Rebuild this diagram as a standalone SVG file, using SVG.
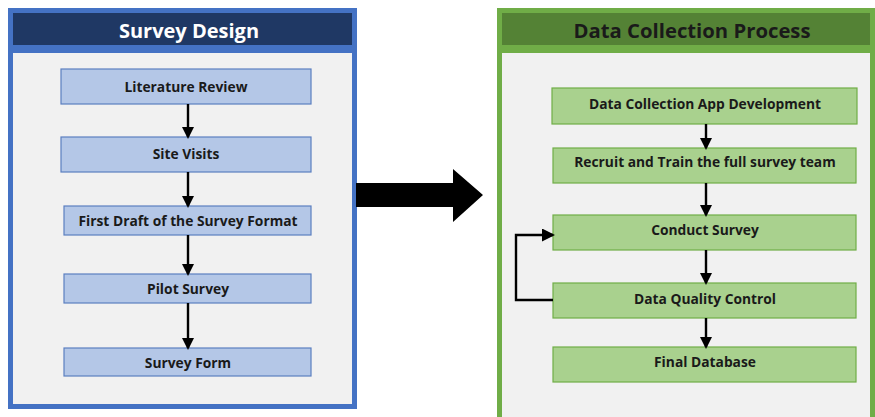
<svg xmlns="http://www.w3.org/2000/svg" width="875" height="417" viewBox="0 0 875 417">
<style>
.t{font-family:"Open Sans","Liberation Sans",sans-serif;font-weight:bold;text-anchor:middle;dominant-baseline:central}
.bt{font-size:13.8px;fill:#1a1a1a}
.bbox{fill:#B4C7E7;stroke:#5B7FC0;stroke-width:1.2}
.gbox{fill:#A9D18E;stroke:#70AD47;stroke-width:1.2}
.ln{stroke:#000;stroke-width:2.4;fill:none}
</style>
<defs>
<marker id="ah" markerWidth="12" markerHeight="12" refX="10" refY="6" orient="auto" markerUnits="userSpaceOnUse" viewBox="0 0 12 12">
<path d="M0,0 L12,6 L0,12 Z" fill="#000"/>
</marker>
<marker id="ah2" markerWidth="13" markerHeight="13" refX="11" refY="6.5" orient="auto" markerUnits="userSpaceOnUse" viewBox="0 0 13 13">
<path d="M0,0 L13,6.5 L0,13 Z" fill="#000"/>
</marker>
</defs>
<rect width="875" height="417" fill="#fff"/>
<g id="panel-survey-design">
<rect x="8" y="8" width="349" height="401" fill="#4472C4"/>
<rect x="13" y="13" width="339" height="32" fill="#1F3864"/>
<rect x="13" y="53" width="339" height="351" fill="#F1F1F1"/>
<text class="t" x="189" y="30" font-size="20" fill="#fff">Survey Design</text>
</g>
<g id="panel-data-collection">
<rect x="497" y="8" width="378" height="409" fill="#70AD47"/>
<rect x="502" y="13" width="368" height="32" fill="#548235"/>
<rect x="502" y="53" width="368" height="364" fill="#F1F1F1"/>
<text class="t" x="692" y="30" font-size="20.3" fill="#1a1a1a">Data Collection Process</text>
</g>
<g id="literature-review"><rect class="bbox" x="61" y="69" width="250" height="35"/><text class="t bt" x="186" y="86">Literature Review</text></g>
<g id="site-visits"><rect class="bbox" x="61" y="137" width="250" height="35"/><text class="t bt" x="186" y="153">Site Visits</text></g>
<g id="first-draft"><rect class="bbox" x="64" y="206" width="247" height="29"/><text class="t bt" x="188" y="220">First Draft of the Survey Format</text></g>
<g id="pilot-survey"><rect class="bbox" x="64" y="274" width="247" height="29"/><text class="t bt" x="188" y="288">Pilot Survey</text></g>
<g id="survey-form"><rect class="bbox" x="64" y="348" width="247" height="28"/><text class="t bt" x="188" y="362">Survey Form</text></g>
<g id="app-development"><rect class="gbox" x="552" y="88" width="305" height="36"/><text class="t bt" x="705" y="103">Data Collection App Development</text></g>
<g id="recruit-train"><rect class="gbox" x="553" y="148" width="303" height="35"/><text class="t bt" x="705" y="161">Recruit and Train the full survey team</text></g>
<g id="conduct-survey"><rect class="gbox" x="553" y="215" width="303" height="35"/><text class="t bt" x="705" y="229">Conduct Survey</text></g>
<g id="data-quality"><rect class="gbox" x="553" y="283" width="303" height="35"/><text class="t bt" x="705" y="298">Data Quality Control</text></g>
<g id="final-database"><rect class="gbox" x="553" y="347" width="303" height="35"/><text class="t bt" x="705" y="361">Final Database</text></g>
<g id="connectors">
<line class="ln" x1="188" y1="104" x2="188" y2="137" marker-end="url(#ah)"/>
<line class="ln" x1="188" y1="172" x2="188" y2="206" marker-end="url(#ah)"/>
<line class="ln" x1="188" y1="235" x2="188" y2="274" marker-end="url(#ah)"/>
<line class="ln" x1="188" y1="303" x2="188" y2="348" marker-end="url(#ah)"/>
<line class="ln" x1="706" y1="124" x2="706" y2="148" marker-end="url(#ah)"/>
<line class="ln" x1="706" y1="183" x2="706" y2="215" marker-end="url(#ah)"/>
<line class="ln" x1="706" y1="250" x2="706" y2="283" marker-end="url(#ah)"/>
<line class="ln" x1="706" y1="318" x2="706" y2="347" marker-end="url(#ah)"/>
<path class="ln" d="M553,300 H516 V235 H553" stroke-width="2.8" marker-end="url(#ah2)"/>
<path d="M356,183 H453 V169 L483,195 L453,222 V207 H356 Z" fill="#000"/>
</g>
</svg>
